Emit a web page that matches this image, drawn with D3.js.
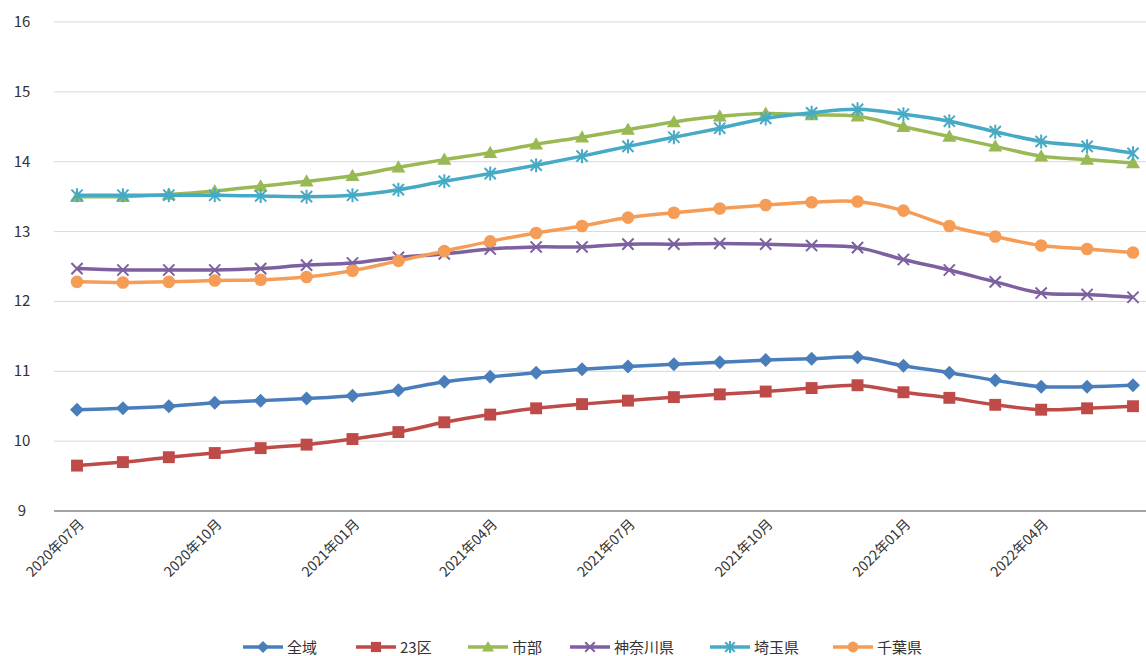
<!DOCTYPE html>
<html>
<head>
<meta charset="utf-8">
<script src="https://d3js.org/d3.v7.min.js"></script>
<style>
  body { margin: 0; background: #fff; }
  text { font-family: "Noto Sans CJK JP", "Noto Sans", sans-serif; }
</style>
</head>
<body>
<svg id="chart" width="1146" height="656"></svg>
<script>
const months = ['2020年07月','2020年08月','2020年09月','2020年10月','2020年11月','2020年12月',
  '2021年01月','2021年02月','2021年03月','2021年04月','2021年05月','2021年06月',
  '2021年07月','2021年08月','2021年09月','2021年10月','2021年11月','2021年12月',
  '2022年01月','2022年02月','2022年03月','2022年04月','2022年05月','2022年06月'];
const tickLabels = ['2020年07月','2020年10月','2021年01月','2021年04月','2021年07月','2021年10月','2022年01月','2022年04月'];
const yTicks = [9, 10, 11, 12, 13, 14, 15, 16];

const zenikiVals = [10.45,10.47,10.5,10.55,10.58,10.61,10.65,10.73,10.85,10.92,10.98,11.03,11.07,11.1,11.13,11.16,11.18,11.2,11.08,10.98,10.87,10.78,10.78,10.8];
const kuVals = [9.65,9.7,9.77,9.83,9.9,9.95,10.03,10.13,10.27,10.38,10.47,10.53,10.58,10.63,10.67,10.71,10.76,10.8,10.7,10.62,10.52,10.45,10.47,10.5];
const shibuVals = [13.5,13.5,13.53,13.58,13.65,13.72,13.8,13.92,14.03,14.13,14.25,14.35,14.46,14.57,14.65,14.69,14.67,14.65,14.5,14.36,14.22,14.08,14.03,13.98];
const kanagawaVals = [12.47,12.45,12.45,12.45,12.47,12.52,12.55,12.63,12.68,12.75,12.78,12.78,12.82,12.82,12.83,12.82,12.8,12.77,12.6,12.45,12.28,12.12,12.1,12.06];
const saitamaVals = [13.52,13.52,13.52,13.52,13.51,13.5,13.52,13.6,13.72,13.83,13.95,14.08,14.22,14.35,14.48,14.62,14.7,14.75,14.68,14.58,14.43,14.29,14.22,14.12];
const chibaVals = [12.28,12.27,12.28,12.3,12.31,12.35,12.44,12.58,12.72,12.86,12.98,13.08,13.2,13.27,13.33,13.38,13.42,13.43,13.3,13.08,12.93,12.8,12.75,12.7];

const series = [
  { name: '全域', values: zenikiVals, color: '#4a7ebb', marker: 'diamond' },
  { name: '23区', values: kuVals, color: '#be4b48', marker: 'square' },
  { name: '市部', values: shibuVals, color: '#98b954', marker: 'triangle' },
  { name: '神奈川県', values: kanagawaVals, color: '#7d60a0', marker: 'x' },
  { name: '埼玉県', values: saitamaVals, color: '#46aac5', marker: 'star' },
  { name: '千葉県', values: chibaVals, color: '#f59d56', marker: 'circle' }
];

const svg = d3.select('#chart');
const x = d3.scalePoint().domain(months).range([77, 1133]);
const y = d3.scaleLinear().domain([9, 16]).range([511, 22]);

// grid
svg.append('g').selectAll('line').data(yTicks.slice(1)).join('line')
  .attr('x1', 54).attr('x2', 1146)
  .attr('y1', d => y(d)).attr('y2', d => y(d))
  .attr('stroke', '#d9d9d9').attr('stroke-width', 1);
svg.append('line').attr('x1', 54).attr('x2', 1146).attr('y1', y(9)).attr('y2', y(9))
  .attr('stroke', '#868686').attr('stroke-width', 1.5);

svg.append('g').selectAll('text').data(yTicks).join('text')
  .attr('x', 22).attr('y', d => y(d) + 5)
  .attr('text-anchor', 'middle').attr('font-size', 15).attr('fill', '#333')
  .text(d => d);

svg.append('g').selectAll('text').data(tickLabels).join('text')
  .attr('transform', d => `translate(${x(d) + 8},${y(9) + 14}) rotate(-45)`)
  .attr('text-anchor', 'end').attr('font-size', 14).attr('fill', '#333')
  .text(d => d);

function drawMarker(g, type, color, s) {
  if (type === 'diamond') g.append('path').attr('d', `M0,${-s}L${s},0L0,${s}L${-s},0Z`).attr('fill', color);
  else if (type === 'square') g.append('rect').attr('x', -s * 0.85).attr('y', -s * 0.85).attr('width', s * 1.7).attr('height', s * 1.7).attr('fill', color);
  else if (type === 'triangle') g.append('path').attr('d', `M0,${-s}L${s},${s * 0.75}L${-s},${s * 0.75}Z`).attr('fill', color);
  else if (type === 'circle') g.append('circle').attr('r', s * 0.9).attr('fill', color);
  else {
    const k = s * 0.8;
    g.append('path').attr('d', `M${-k},${-k}L${k},${k}M${k},${-k}L${-k},${k}` + (type === 'star' ? `M0,${-s}L0,${s}` : ''))
      .attr('stroke', color).attr('stroke-width', 2).attr('fill', 'none');
  }
}

const line = d3.line().x((d, i) => x(months[i])).y(d => y(d)).curve(d3.curveCatmullRom.alpha(0.5));

series.forEach(s => {
  svg.append('path').attr('d', line(s.values))
    .attr('fill', 'none').attr('stroke', s.color).attr('stroke-width', 3.5);
  s.values.forEach((v, i) => {
    const g = svg.append('g').attr('transform', `translate(${x(months[i])},${y(v)})`);
    drawMarker(g, s.marker, s.color, 7);
  });
});

// legend
const legendX = [243, 356, 468, 570, 710, 833];
series.forEach((s, i) => {
  const g = svg.append('g').attr('transform', `translate(${legendX[i]},647)`);
  g.append('line').attr('x1', 0).attr('x2', 40).attr('stroke', s.color).attr('stroke-width', 3.5);
  drawMarker(g.append('g').attr('transform', 'translate(20,0)'), s.marker, s.color, 6);
  g.append('text').attr('x', 44).attr('y', 6).attr('font-size', 15).attr('fill', '#333').text(s.name);
});
</script>
</body>
</html>
